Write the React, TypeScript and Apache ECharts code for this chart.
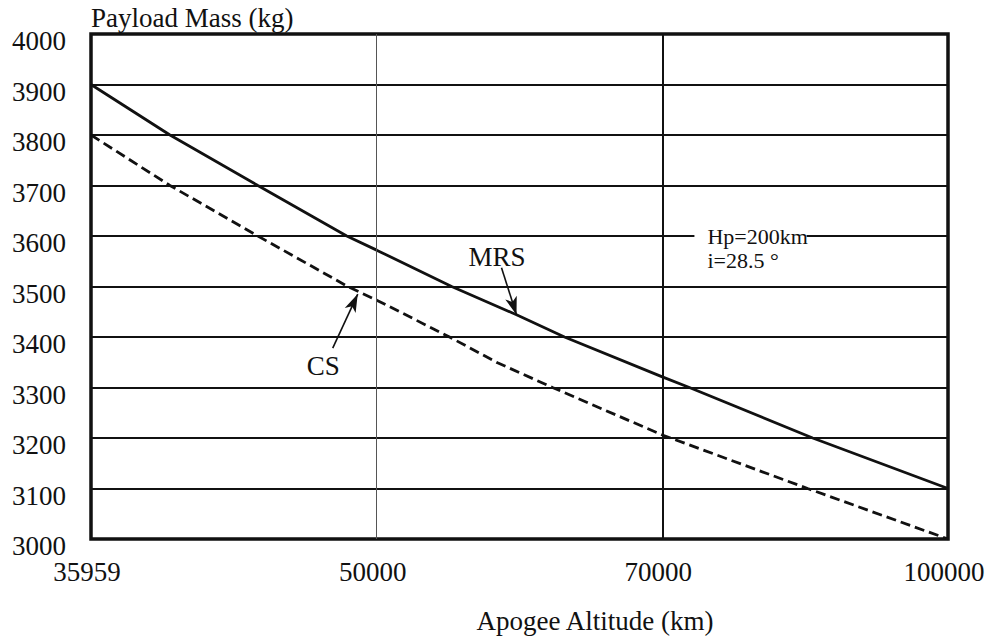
import React, { useEffect, useRef } from "react";
import * as echarts from "echarts";

// ---- data ----
const X_TICKS = [35959, 50000, 70000, 100000];
const Y_MIN = 3000;
const Y_MAX = 4000;
const Y_STEP = 100;

const MRS_KM = [35959, 39840, 44160, 48530, 50000, 55250, 59790, 63150, 70000, 72840, 85790, 100000];
const MRS_KG = [3900, 3800, 3700, 3600, 3572, 3500, 3444, 3400, 3321, 3300, 3200, 3100];

const CS_KM = [35959, 39840, 44160, 48580, 50000, 55100, 58460, 62310, 70000, 85260, 100000];
const CS_KG = [3800, 3700, 3600, 3500, 3473, 3400, 3349, 3300, 3206, 3100, 3000];

const CURVE_LABELS = [
  { text: "MRS", km: 58420, kg: 3558 },
  { text: "CS", km: 47370, kg: 3343 },
];
const ARROWS = [
  { fromKm: 58740, fromKg: 3537, toKm: 59790, toKg: 3444 },
  { fromKm: 47840, fromKg: 3378, toKm: 49070, toKg: 3485 },
];
const NOTE_LINES = [
  { text: "Hp=200km", km: 74740, kg: 3600 },
  { text: "i=28.5 °", km: 74740, kg: 3552 },
];
const NOTE_GAP = { fromKm: 73370, toKm: 85150, kg: 3600 };

const FONT = "'Liberation Serif', 'Times New Roman', serif";
const INK = "#111";

// piecewise position on the equally spaced altitude axis
function toPos(km: number): number {
  for (let i = 0; i < X_TICKS.length - 1; i++) {
    if (km <= X_TICKS[i + 1] || i === X_TICKS.length - 2) {
      return i + (km - X_TICKS[i]) / (X_TICKS[i + 1] - X_TICKS[i]);
    }
  }
  return 0;
}

export default function App() {
  const ref = useRef<HTMLDivElement>(null);

  useEffect(() => {
    document.body.style.margin = "0";
    if (!ref.current) return;
    const chart = echarts.init(ref.current, undefined, { renderer: "svg" });

    const option: any = {
      animation: false,
      backgroundColor: "#fff",
      textStyle: { fontFamily: FONT, color: INK },
      grid: {
        left: 91,
        right: 43,
        top: 34,
        bottom: 100,
        show: true,
        borderColor: INK,
        borderWidth: 3.5,
        backgroundColor: "transparent",
      },
      xAxis: {
        type: "value",
        min: 0,
        max: X_TICKS.length - 1,
        interval: 1,
        axisLine: { show: false },
        axisTick: { show: false },
        splitLine: { show: false },
        axisLabel: {
          margin: 19,
          fontSize: 27,
          fontFamily: FONT,
          color: INK,
          padding: [0, 8, 0, 0],
          formatter: (v: number) => String(X_TICKS[Math.round(v)]),
        },
        name: "Apogee Altitude (km)",
        nameLocation: "middle",
        nameGap: 68,
        nameTextStyle: { fontSize: 27, fontFamily: FONT, color: INK, padding: [0, 0, 0, 151] },
      },
      yAxis: {
        type: "value",
        min: Y_MIN,
        max: Y_MAX,
        interval: Y_STEP,
        axisLine: { show: false },
        axisTick: { show: false },
        splitLine: { show: true, lineStyle: { color: INK, width: 2 } },
        axisLabel: {
          margin: 25,
          color: INK,
          formatter: (v: number) => `{t|${v}}`,
          rich: {
            t: {
              fontSize: 27,
              fontFamily: FONT,
              color: INK,
              padding: [14, 0, 0, 0],
            },
          },
        },
        name: "Payload Mass (kg)",
        nameLocation: "end",
        nameGap: 3,
        nameTextStyle: {
          fontSize: 27,
          fontFamily: FONT,
          color: INK,
          align: "left",
          verticalAlign: "bottom",
        },
      },
      series: [
        {
          name: "MRS",
          type: "line",
          showSymbol: false,
          symbol: "none",
          lineStyle: { color: INK, width: 2.8, type: "solid" },
          data: MRS_KM.map((km, i) => [toPos(km), MRS_KG[i]]),
          z: 3,
          markLine: {
            silent: true,
            animation: false,
            symbol: ["none", "none"],
            label: { show: false },
            data: [
              { xAxis: 1, lineStyle: { color: "#555", width: 1, type: "solid" } },
              { xAxis: 2, lineStyle: { color: INK, width: 2, type: "solid" } },
              ...ARROWS.map((a) => [
                {
                  coord: [toPos(a.fromKm), a.fromKg],
                  symbol: "none",
                  lineStyle: { color: INK, width: 1.6, type: "solid" },
                },
                { coord: [toPos(a.toKm), a.toKg], symbol: "arrow", symbolSize: [9, 18] },
              ]),
            ],
            itemStyle: { color: INK },
          },
        },
        {
          name: "CS",
          type: "line",
          showSymbol: false,
          symbol: "none",
          lineStyle: { color: INK, width: 2.8, type: [10, 5] },
          data: CS_KM.map((km, i) => [toPos(km), CS_KG[i]]),
          z: 3,
        },
      ],
    };

    chart.setOption(option);

    const px = (km: number, kg: number) =>
      chart.convertToPixel({ gridIndex: 0 }, [toPos(km), kg]) as number[];

    const g0 = px(NOTE_GAP.fromKm, NOTE_GAP.kg);
    const g1 = px(NOTE_GAP.toKm, NOTE_GAP.kg);

    const graphics: any[] = [
      {
        type: "rect",
        z: 50,
        shape: { x: g0[0], y: g0[1] - 4, width: g1[0] - g0[0], height: 8 },
        style: { fill: "#fff" },
      },
      ...NOTE_LINES.map((n) => {
        const p = px(n.km, n.kg);
        return {
          type: "text",
          z: 60,
          x: p[0],
          y: p[1],
          style: {
            text: n.text,
            font: `22px ${FONT}`,
            fill: INK,
            align: "left",
            verticalAlign: "middle",
          },
        };
      }),
      ...CURVE_LABELS.map((l) => {
        const p = px(l.km, l.kg);
        return {
          type: "text",
          z: 60,
          x: p[0],
          y: p[1],
          style: {
            text: l.text,
            font: `27px ${FONT}`,
            fill: INK,
            align: "center",
            verticalAlign: "middle",
          },
        };
      }),
    ];

    chart.setOption({ graphic: graphics });

    return () => chart.dispose();
  }, []);

  return <div ref={ref} style={{ width: 991, height: 639 }} />;
}
